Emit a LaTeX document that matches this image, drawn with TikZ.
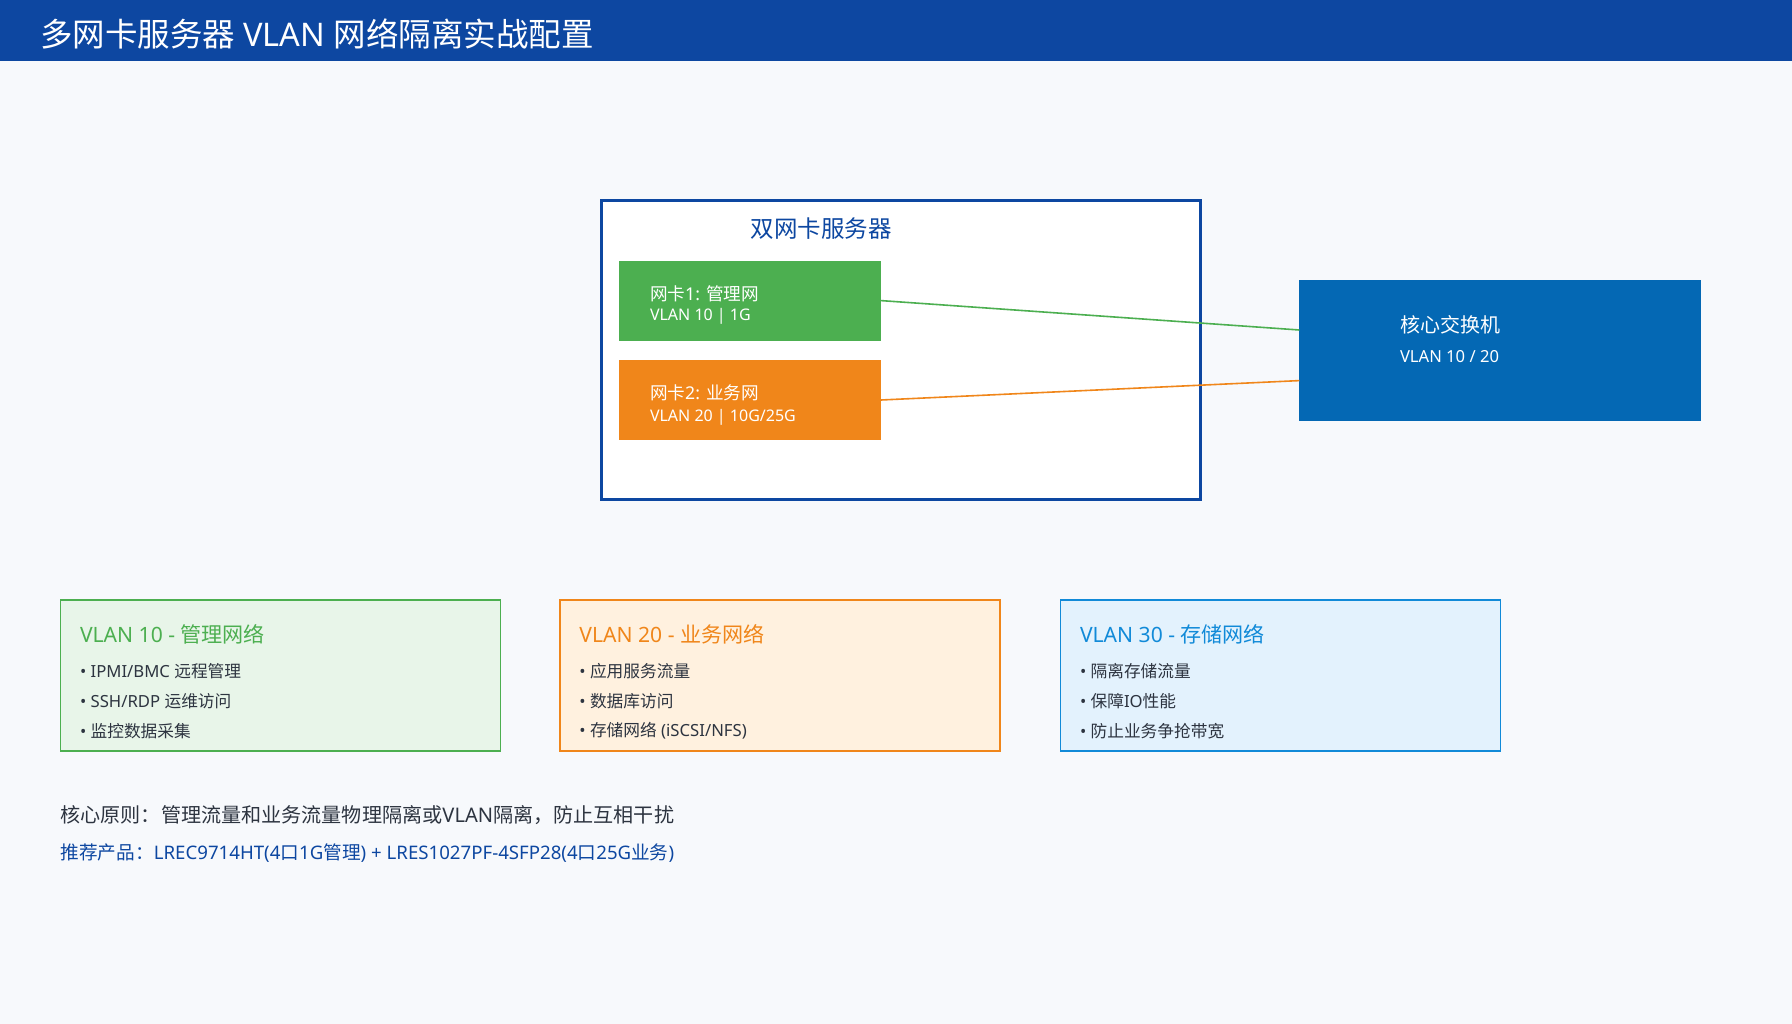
\documentclass[tikz,border=0pt]{standalone}
\usepackage{fontspec}
\setmainfont{Noto Sans CJK SC}
\newfontfamily\latf{Noto Sans}
\newcommand{\lat}[1]{{\latf #1}}
\definecolor{hdr}{HTML}{0D47A1}
\definecolor{bgc}{HTML}{F7F9FC}
\definecolor{gr}{HTML}{4CAF50}
\definecolor{grfill}{HTML}{E8F5E9}
\definecolor{og}{HTML}{F0861A}
\definecolor{ogfill}{HTML}{FFF1DF}
\definecolor{sw}{HTML}{0468B4}
\definecolor{bl}{HTML}{118AD8}
\definecolor{blfill}{HTML}{E3F2FD}
\definecolor{txt}{HTML}{2D3440}
\newcommand{\fs}[1]{\fontsize{#1}{#1}\selectfont}
\begin{document}
\begin{tikzpicture}[x=1pt,y=-1pt,
  box/.style={rectangle,inner sep=0pt,outer sep=0pt},
  lbl/.style={anchor=west,inner sep=0pt,outer sep=0pt},
  nicbox/.style={box,minimum width=261.6pt,minimum height=80pt},
  legbox/.style={box,line width=1.3pt,minimum width=440pt,minimum height=151pt},
  whitetxt/.style={lbl,text=white},
  leghead/.style={lbl,font=\fs{21.1}},
  legitem/.style={lbl,text=txt,font=\fs{16.7}},
  link/.style={line width=1.6pt}
]
\useasboundingbox (0,0) rectangle (1792,1024);
\fill[bgc] (0,0) rectangle (1792,1024);
\node[box,fill=hdr,minimum width=1792pt,minimum height=60.6pt,anchor=north west] (header) at (0,0) {};
\node[lbl,text=white,font=\fs{32.5}] (title) at (40,34) {多网卡服务器\lat{ VLAN }网络隔离实战配置};

% server
\node[box,draw=hdr,line width=3pt,fill=white,minimum width=599pt,minimum height=298pt] (srv) at (900.5,350) {};
\node[inner sep=0pt,text=hdr,font=\fs{23.5}] (srvtitle) at (821,228.6) {双网卡服务器};
\node[nicbox,fill=gr] (nic1) at (750.2,300.6) {};
\node[nicbox,fill=og] (nic2) at (750.2,400) {};
\node[whitetxt,font=\fs{17.6}] (nic1a) at (650,293.7) {网卡\lat{1: }管理网};
\node[whitetxt,font=\fs{16}] (nic1b) at (650,316.5) {\lat{VLAN 10 | 1G}};
\node[whitetxt,font=\fs{17.6}] (nic2a) at (650,393) {网卡\lat{2: }业务网};
\node[whitetxt,font=\fs{16}] (nic2b) at (650,417) {\lat{VLAN 20 | 10G/25G}};

% switch
\node[box,fill=sw,minimum width=401.2pt,minimum height=140.6pt] (switch) at (1500,350.3) {};
\node[whitetxt,font=\fs{20}] (swa) at (1400,324.6) {核心交换机};
\node[whitetxt,font=\fs{16.6}] (swb) at (1400,356.5) {\lat{VLAN 10 / 20}};
\coordinate (sw1) at (1299.4,330);
\coordinate (sw2) at (1299.4,380.6);
\draw[link,gr] (nic1.east) -- (sw1);
\draw[link,og] (nic2.east) -- (sw2);

% legend
\node[legbox,draw=gr,fill=grfill] (leg1) at (280.6,675.5) {};
\node[legbox,draw=og,fill=ogfill] (leg2) at (780,675.5) {};
\node[legbox,draw=bl,fill=blfill] (leg3) at (1280.6,675.5) {};

\node[leghead,text=gr] (l1h) at (80,634.5) {\lat{VLAN 10 - }管理网络};
\node[legitem] (l1a) at (80,671.5) {\lat{• IPMI/BMC }远程管理};
\node[legitem] (l1b) at (80,701.3) {\lat{• SSH/RDP }运维访问};
\node[legitem] (l1c) at (80,731) {\lat{• }监控数据采集};

\node[leghead,text=og] (l2h) at (579.4,634.5) {\lat{VLAN 20 - }业务网络};
\node[legitem] (l2a) at (579.4,671.5) {\lat{• }应用服务流量};
\node[legitem] (l2b) at (579.4,701.3) {\lat{• }数据库访问};
\node[legitem] (l2c) at (579.4,731) {\lat{• }存储网络\lat{ (iSCSI/NFS)}};

\node[leghead,text=bl] (l3h) at (1080,634.5) {\lat{VLAN 30 - }存储网络};
\node[legitem] (l3a) at (1080,671.5) {\lat{• }隔离存储流量};
\node[legitem] (l3b) at (1080,701.3) {\lat{• }保障\lat{IO}性能};
\node[legitem] (l3c) at (1080,731) {\lat{• }防止业务争抢带宽};

% bottom notes
\node[lbl,text=txt,font=\fs{20.1}] (note1) at (60.6,815.5) {核心原则：管理流量和业务流量物理隔离或\lat{VLAN}隔离，防止互相干扰};
\node[lbl,text=hdr,font=\fs{18.65}] (note2) at (60.6,853.5) {推荐产品：\lat{LREC9714HT(4}口\lat{1G}管理\lat{) + LRES1027PF-4SFP28(4}口\lat{25G}业务\lat{)}};
\end{tikzpicture}
\end{document}
